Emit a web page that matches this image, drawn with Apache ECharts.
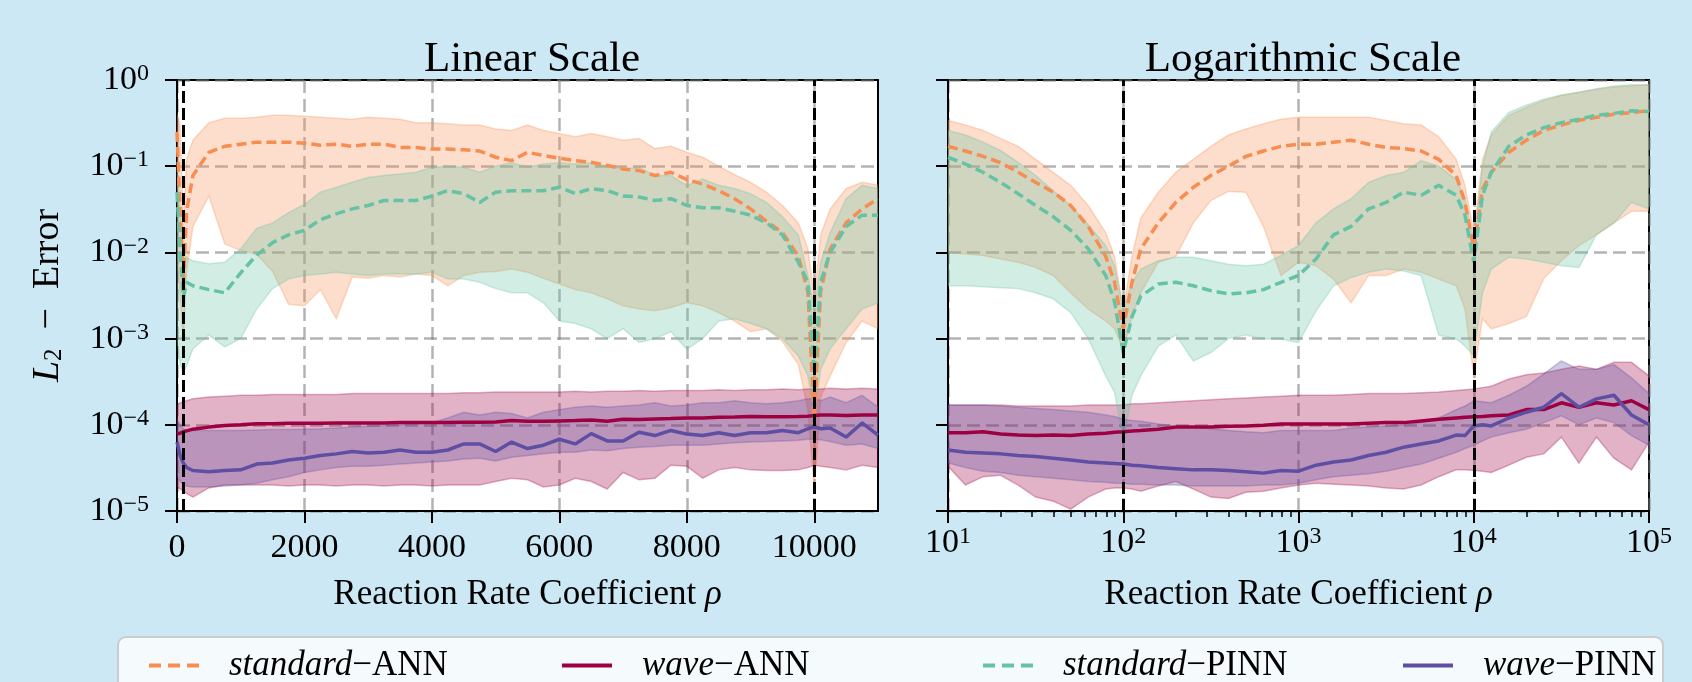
<!DOCTYPE html>
<html>
<head>
<meta charset="utf-8">
<title>L2 error vs reaction rate coefficient</title>
<script src="https://cdn.jsdelivr.net/npm/echarts@6/dist/echarts.min.js"></script>
<style>
  html, body { margin: 0; padding: 0; background: #cbe8f4; }
  #main { width: 1692px; height: 682px; }
</style>
</head>
<body>
<div id="main"></div>
<script>
// ---- linear-scale panel: rho from 0 to 11000 ----
var rhoLin = [0, 50, 100, 150, 250, 500, 750, 1000, 1250, 1500, 1750, 2000, 2250, 2500, 2750, 3000,
  3250, 3500, 3750, 4000, 4250, 4500, 4750, 5000, 5250, 5500, 5750, 6000, 6250, 6500, 6750, 7000,
  7250, 7500, 7750, 8000, 8250, 8500, 8750, 9000, 9250, 9500, 9750, 9900, 10000, 10100, 10250,
  10500, 10750, 11000];

var linStdAnnMean = [0.25, 0.03, 0.0045, 0.03, 0.078, 0.145, 0.17, 0.18, 0.19, 0.19, 0.19, 0.185, 0.175,
  0.18, 0.17, 0.18, 0.18, 0.165, 0.165, 0.158, 0.158, 0.155, 0.15, 0.127, 0.116, 0.145, 0.133, 0.124,
  0.116, 0.111, 0.102, 0.093, 0.089, 0.078, 0.085, 0.070, 0.062, 0.052, 0.042, 0.032, 0.023, 0.017,
  0.009, 0.0035, 0.000115, 0.0035, 0.011, 0.022, 0.032, 0.042];
var linStdAnnHi = [0.4, 0.3, 0.02, 0.12, 0.2, 0.32, 0.36, 0.36, 0.37, 0.39, 0.39, 0.38, 0.37, 0.36, 0.35,
  0.37, 0.36, 0.35, 0.32, 0.32, 0.31, 0.30, 0.30, 0.27, 0.26, 0.30, 0.26, 0.24, 0.22, 0.24, 0.22, 0.20,
  0.21, 0.16, 0.17, 0.145, 0.127, 0.10, 0.08, 0.065, 0.05, 0.035, 0.022, 0.011, 0.003, 0.016, 0.032,
  0.055, 0.065, 0.06];
var linStdAnnLo = [0.01, 0.003, 0.001, 0.006, 0.02, 0.045, 0.0125, 0.0105, 0.0095, 0.006, 0.0025, 0.0024,
  0.0037, 0.0017, 0.0052, 0.005, 0.0054, 0.0052, 0.0056, 0.0054, 0.0041, 0.0054, 0.0059, 0.006, 0.0064,
  0.0059, 0.005, 0.0043, 0.0037, 0.0034, 0.0029, 0.0024, 0.0022, 0.0021, 0.0023, 0.0026, 0.0024, 0.002,
  0.0016, 0.0012, 0.0013, 0.00093, 0.0005, 0.00015, 0.000018, 0.00021, 0.00037, 0.0009, 0.0016, 0.0013];

var linStdPinnMean = [0.05, 0.01, 0.003, 0.0045, 0.0041, 0.0037, 0.0034, 0.0058, 0.0093, 0.013, 0.016,
  0.018, 0.024, 0.028, 0.032, 0.035, 0.04, 0.04, 0.04, 0.045, 0.052, 0.048, 0.038, 0.05, 0.052, 0.052,
  0.052, 0.057, 0.048, 0.055, 0.052, 0.045, 0.044, 0.04, 0.042, 0.035, 0.033, 0.033, 0.03, 0.027, 0.022,
  0.016, 0.0077, 0.0045, 0.0004, 0.0045, 0.01, 0.02, 0.027, 0.027];
var linStdPinnHi = [0.12, 0.03, 0.01, 0.0087, 0.008, 0.0074, 0.0077, 0.011, 0.019, 0.022, 0.029, 0.036,
  0.05, 0.057, 0.065, 0.074, 0.078, 0.081, 0.085, 0.097, 0.10, 0.097, 0.085, 0.10, 0.11, 0.097, 0.106,
  0.11, 0.106, 0.11, 0.10, 0.093, 0.097, 0.078, 0.078, 0.06, 0.071, 0.06, 0.055, 0.048, 0.038, 0.026,
  0.016, 0.0054, 0.0022, 0.0077, 0.017, 0.042, 0.06, 0.055];
var linStdPinnLo = [0.001, 0.0005, 0.0004, 0.00048, 0.00076, 0.0011, 0.0008, 0.001, 0.0022, 0.0038, 0.0049,
  0.0054, 0.0056, 0.0059, 0.0056, 0.0054, 0.0056, 0.0056, 0.0056, 0.0059, 0.0049, 0.0049, 0.0045, 0.0038,
  0.0034, 0.0034, 0.0026, 0.0016, 0.0015, 0.0013, 0.001, 0.0013, 0.0009, 0.001, 0.0012, 0.00075, 0.001,
  0.0016, 0.0017, 0.0015, 0.0013, 0.001, 0.00063, 0.00037, 0.00013, 0.00044, 0.00076, 0.0013, 0.0022, 0.0026];

var linWaveAnnMean = [7.8e-5, 8.0e-5, 8.3e-5, 8.5e-5, 8.9e-5, 9.4e-5, 9.8e-5, 1.0e-4, 1.03e-4, 1.03e-4,
  1.04e-4, 1.04e-4, 1.04e-4, 1.05e-4, 1.05e-4, 1.05e-4, 1.05e-4, 1.06e-4, 1.06e-4, 1.06e-4,
  1.06e-4, 1.07e-4, 1.07e-4, 1.08e-4, 1.12e-4, 1.1e-4, 1.1e-4, 1.11e-4, 1.12e-4, 1.14e-4,
  1.1e-4, 1.16e-4, 1.15e-4, 1.17e-4, 1.18e-4, 1.2e-4, 1.2e-4, 1.22e-4, 1.23e-4, 1.25e-4,
  1.24e-4, 1.24e-4, 1.25e-4, 1.26e-4, 1.28e-4, 1.3e-4, 1.3e-4, 1.28e-4, 1.3e-4, 1.3e-4];
var linWaveAnnHi = [1.7e-4, 1.8e-4, 1.85e-4, 1.9e-4, 2.0e-4, 2.1e-4, 2.15e-4, 2.2e-4, 2.2e-4, 2.25e-4,
  2.25e-4, 2.25e-4, 2.25e-4, 2.25e-4, 2.3e-4, 2.3e-4, 2.3e-4, 2.3e-4, 2.3e-4, 2.3e-4,
  2.3e-4, 2.35e-4, 2.35e-4, 2.4e-4, 2.4e-4, 2.4e-4, 2.4e-4, 2.4e-4, 2.45e-4, 2.4e-4,
  2.45e-4, 2.45e-4, 2.5e-4, 2.45e-4, 2.5e-4, 2.5e-4, 2.5e-4, 2.55e-4, 2.5e-4, 2.55e-4,
  2.55e-4, 2.6e-4, 2.55e-4, 2.6e-4, 2.6e-4, 2.6e-4, 2.65e-4, 2.6e-4, 2.65e-4, 2.6e-4];
var linWaveAnnLo = [1.9e-5, 1.8e-5, 1.7e-5, 1.6e-5, 1.45e-5, 1.85e-5, 2.0e-5, 2.0e-5, 2.0e-5, 2.0e-5,
  1.95e-5, 2.0e-5, 2.0e-5, 1.95e-5, 2.0e-5, 2.0e-5, 1.95e-5, 2.0e-5, 2.0e-5, 1.95e-5,
  2.0e-5, 2.0e-5, 2.0e-5, 2.2e-5, 2.4e-5, 2.3e-5, 1.9e-5, 2.0e-5, 2.4e-5, 2.2e-5,
  1.8e-5, 2.8e-5, 2.3e-5, 2.4e-5, 3.4e-5, 3.3e-5, 2.4e-5, 3.0e-5, 3.2e-5, 3.0e-5,
  2.95e-5, 2.95e-5, 3.0e-5, 3.2e-5, 3.4e-5, 3.3e-5, 3.2e-5, 3.0e-5, 3.4e-5, 3.2e-5];

var linWavePinnMean = [6.3e-5, 4.4e-5, 3.6e-5, 3.2e-5, 2.95e-5, 2.85e-5, 2.95e-5, 3.0e-5, 3.5e-5, 3.6e-5,
  3.9e-5, 4.1e-5, 4.4e-5, 4.6e-5, 4.9e-5, 4.7e-5, 4.8e-5, 5.1e-5, 4.8e-5, 4.8e-5,
  5.1e-5, 6.0e-5, 6.0e-5, 4.9e-5, 6.3e-5, 5.3e-5, 5.8e-5, 6.8e-5, 6.0e-5, 7.9e-5,
  6.5e-5, 6.5e-5, 8.2e-5, 7.5e-5, 8.6e-5, 7.8e-5, 7.5e-5, 8.1e-5, 7.5e-5, 8.1e-5,
  8.1e-5, 8.6e-5, 8.1e-5, 9.0e-5, 9.5e-5, 9.0e-5, 9.2e-5, 7.2e-5, 1.05e-4, 7.6e-5];
var linWavePinnHi = [1.16e-4, 1.0e-4, 9.0e-5, 8.6e-5, 8.6e-5, 8.6e-5, 8.6e-5, 8.6e-5, 8.7e-5, 8.8e-5,
  8.8e-5, 8.9e-5, 9.0e-5, 9.2e-5, 9.4e-5, 9.7e-5, 9.8e-5, 1.0e-4, 1.03e-4, 1.06e-4,
  1.2e-4, 1.4e-4, 1.3e-4, 1.4e-4, 1.35e-4, 1.2e-4, 1.4e-4, 1.5e-4, 1.6e-4, 1.65e-4,
  1.6e-4, 1.65e-4, 1.7e-4, 1.8e-4, 1.65e-4, 1.7e-4, 1.8e-4, 1.8e-4, 1.9e-4, 1.8e-4,
  1.75e-4, 1.8e-4, 1.9e-4, 2.0e-4, 2.0e-4, 1.9e-4, 2.1e-4, 1.8e-4, 2.2e-4, 1.6e-4];
var linWavePinnLo = [2.6e-5, 2.2e-5, 2.0e-5, 1.95e-5, 1.9e-5, 1.9e-5, 1.95e-5, 2.0e-5, 2.1e-5, 2.3e-5,
  2.5e-5, 2.8e-5, 3.0e-5, 3.2e-5, 3.3e-5, 3.3e-5, 3.4e-5, 3.5e-5, 3.6e-5, 3.7e-5,
  3.8e-5, 4.0e-5, 4.1e-5, 3.8e-5, 4.2e-5, 4.4e-5, 4.6e-5, 4.8e-5, 4.8e-5, 5.1e-5,
  5.0e-5, 5.3e-5, 5.5e-5, 5.6e-5, 5.8e-5, 5.8e-5, 5.8e-5, 6.0e-5, 6.2e-5, 6.3e-5,
  6.4e-5, 6.5e-5, 6.6e-5, 6.8e-5, 6.8e-5, 6.7e-5, 6.4e-5, 5.8e-5, 6.0e-5, 5.3e-5];

// ---- logarithmic-scale panel: rho from 10 to 1e5 ----
var rhoLog = [10, 12.59, 15.85, 19.95, 25.12, 31.62, 39.81, 50.12, 63.1, 79.43, 89.13, 100, 112.2,
  125.9, 158.5, 199.5, 251.2, 316.2, 398.1, 501.2, 631, 794.3, 1000, 1259, 1585, 1995, 2512, 3162,
  3981, 5012, 6310, 7943, 8913, 10000, 11220, 12589, 15849, 19953, 25119, 31623, 39811, 50119,
  63096, 79433, 100000];

var logStdAnnMean = [0.17, 0.15, 0.13, 0.11, 0.085, 0.065, 0.05, 0.035, 0.02, 0.009, 0.0045, 0.0013, 0.0045,
  0.011, 0.022, 0.038, 0.057, 0.078, 0.10, 0.13, 0.15, 0.17, 0.18, 0.18, 0.19, 0.20, 0.18, 0.165, 0.16,
  0.15, 0.12, 0.078, 0.038, 0.011, 0.054, 0.085, 0.145, 0.20, 0.26, 0.30, 0.34, 0.37, 0.40, 0.42, 0.44];
var logStdAnnHi = [0.34, 0.30, 0.26, 0.21, 0.17, 0.12, 0.085, 0.06, 0.035, 0.017, 0.009, 0.0022, 0.009,
  0.025, 0.05, 0.085, 0.12, 0.17, 0.23, 0.27, 0.31, 0.35, 0.37, 0.37, 0.37, 0.37, 0.37, 0.34, 0.31,
  0.30, 0.22, 0.12, 0.06, 0.017, 0.12, 0.23, 0.39, 0.48, 0.58, 0.66, 0.72, 0.78, 0.83, 0.86, 0.88];
var logStdAnnLo = [0.01, 0.0096, 0.0092, 0.0084, 0.0077, 0.0067, 0.0054, 0.0034, 0.0022, 0.0016, 0.0013,
  0.00075, 0.0018, 0.0034, 0.0077, 0.009, 0.022, 0.04, 0.051, 0.05, 0.02, 0.0054, 0.0077, 0.007, 0.0049,
  0.0026, 0.0054, 0.0054, 0.0064, 0.0059, 0.0049, 0.0041, 0.0022, 0.00037, 0.0017, 0.0013, 0.0015,
  0.0018, 0.005, 0.008, 0.012, 0.016, 0.022, 0.03, 0.03];

var logStdPinnMean = [0.127, 0.106, 0.085, 0.065, 0.048, 0.035, 0.026, 0.018, 0.011, 0.0054, 0.0027,
  0.00069, 0.0018, 0.0031, 0.0043, 0.0045, 0.0041, 0.0036, 0.0033, 0.0034, 0.0037, 0.0045, 0.0054,
  0.0084, 0.016, 0.02, 0.032, 0.038, 0.05, 0.046, 0.06, 0.046, 0.027, 0.0077, 0.046, 0.085, 0.17,
  0.23, 0.28, 0.32, 0.35, 0.39, 0.41, 0.44, 0.43];
var logStdPinnHi = [0.26, 0.23, 0.19, 0.152, 0.111, 0.078, 0.052, 0.035, 0.021, 0.012, 0.007, 0.0022,
  0.0045, 0.0064, 0.008, 0.0088, 0.0088, 0.008, 0.0073, 0.007, 0.0073, 0.0092, 0.012, 0.022, 0.032,
  0.042, 0.065, 0.078, 0.085, 0.116, 0.10, 0.07, 0.042, 0.013, 0.10, 0.25, 0.42, 0.51, 0.60, 0.67,
  0.72, 0.79, 0.85, 0.88, 0.88];
var logStdPinnLo = [0.0041, 0.0041, 0.004, 0.0039, 0.0038, 0.0034, 0.0029, 0.002, 0.001, 0.00037, 0.00024,
  0.000068, 0.00022, 0.00037, 0.00082, 0.0011, 0.00055, 0.00069, 0.001, 0.0011, 0.00099, 0.00099, 0.0009,
  0.0021, 0.0041, 0.0051, 0.0059, 0.0064, 0.0061, 0.0054, 0.0011, 0.00099, 0.00082, 0.00063, 0.0034,
  0.0064, 0.0088, 0.0084, 0.0077, 0.007, 0.0067, 0.016, 0.022, 0.038, 0.032];

var logWaveAnnMean = [8.1e-5, 8.1e-5, 8.3e-5, 7.8e-5, 7.6e-5, 7.5e-5, 7.6e-5, 7.5e-5, 7.8e-5, 8.0e-5,
  8.2e-5, 8.3e-5, 8.5e-5, 8.6e-5, 8.9e-5, 9.4e-5, 9.4e-5, 9.4e-5, 9.6e-5, 9.7e-5, 9.9e-5, 1.02e-4,
  1.02e-4, 1.02e-4, 1.02e-4, 1.02e-4, 1.04e-4, 1.06e-4, 1.06e-4, 1.11e-4, 1.16e-4, 1.2e-4, 1.22e-4,
  1.24e-4, 1.25e-4, 1.27e-4, 1.3e-4, 1.5e-4, 1.5e-4, 1.8e-4, 1.6e-4, 1.8e-4, 1.7e-4, 1.9e-4, 1.5e-4];
var logWaveAnnHi = [1.7e-4, 1.7e-4, 1.7e-4, 1.7e-4, 1.65e-4, 1.65e-4, 1.65e-4, 1.65e-4, 1.7e-4, 1.7e-4,
  1.7e-4, 1.7e-4, 1.75e-4, 1.75e-4, 1.8e-4, 1.85e-4, 1.9e-4, 1.95e-4, 2.0e-4, 2.05e-4, 2.1e-4, 2.15e-4,
  2.2e-4, 2.2e-4, 2.2e-4, 2.25e-4, 2.3e-4, 2.3e-4, 2.3e-4, 2.35e-4, 2.4e-4, 2.5e-4, 2.55e-4, 2.6e-4,
  2.7e-4, 2.8e-4, 3.4e-4, 3.8e-4, 4.0e-4, 4.4e-4, 4.8e-4, 4.4e-4, 5.3e-4, 5.3e-4, 3.7e-4];
var logWaveAnnLo = [3.3e-5, 2.0e-5, 2.5e-5, 2.6e-5, 2.0e-5, 1.45e-5, 1.3e-5, 1.05e-5, 1.45e-5, 1.8e-5,
  1.85e-5, 1.85e-5, 1.8e-5, 1.7e-5, 1.95e-5, 2.2e-5, 1.8e-5, 1.45e-5, 1.4e-5, 1.65e-5, 1.7e-5, 1.85e-5,
  2.0e-5, 2.1e-5, 2.05e-5, 2.0e-5, 1.95e-5, 1.85e-5, 1.8e-5, 2.0e-5, 2.5e-5, 3.0e-5, 3.0e-5, 2.95e-5,
  2.9e-5, 2.8e-5, 3.4e-5, 4.2e-5, 4.6e-5, 7.2e-5, 3.6e-5, 7.2e-5, 4.1e-5, 3.0e-5, 6.3e-5];

var logWavePinnMean = [5.1e-5, 4.8e-5, 4.7e-5, 4.6e-5, 4.4e-5, 4.3e-5, 4.1e-5, 3.9e-5, 3.7e-5, 3.6e-5,
  3.55e-5, 3.5e-5, 3.4e-5, 3.35e-5, 3.2e-5, 3.1e-5, 3.0e-5, 3.0e-5, 2.95e-5, 2.85e-5, 2.75e-5, 2.95e-5,
  2.9e-5, 3.4e-5, 3.7e-5, 3.9e-5, 4.4e-5, 4.8e-5, 5.5e-5, 6.0e-5, 6.5e-5, 7.6e-5, 7.5e-5, 9.7e-5,
  1.0e-4, 9.7e-5, 1.2e-4, 1.4e-4, 1.6e-4, 2.3e-4, 1.6e-4, 2.0e-4, 2.2e-4, 1.3e-4, 1.0e-4];
var logWavePinnHi = [1.7e-4, 1.7e-4, 1.7e-4, 1.65e-4, 1.6e-4, 1.55e-4, 1.5e-4, 1.45e-4, 1.4e-4, 1.3e-4,
  1.25e-4, 1.16e-4, 1.12e-4, 1.1e-4, 1.02e-4, 9.7e-5, 9.4e-5, 9.0e-5, 8.6e-5, 8.3e-5, 8.1e-5, 8.6e-5,
  8.6e-5, 8.6e-5, 8.6e-5, 9.2e-5, 9.4e-5, 9.7e-5, 1.0e-4, 1.06e-4, 1.2e-4, 1.5e-4, 1.65e-4, 1.9e-4,
  1.85e-4, 1.8e-4, 2.2e-4, 2.8e-4, 3.9e-4, 5.5e-4, 4.4e-4, 4.4e-4, 5.0e-4, 3.5e-4, 2.3e-4];
var logWavePinnLo = [3.6e-5, 3.2e-5, 2.9e-5, 2.8e-5, 2.6e-5, 2.5e-5, 2.4e-5, 2.3e-5, 2.2e-5, 2.15e-5,
  2.1e-5, 2.1e-5, 2.05e-5, 2.05e-5, 2.0e-5, 2.0e-5, 1.95e-5, 1.95e-5, 1.95e-5, 1.95e-5, 2.0e-5, 2.0e-5,
  2.1e-5, 2.3e-5, 2.5e-5, 2.6e-5, 2.7e-5, 2.9e-5, 3.2e-5, 3.5e-5, 4.1e-5, 4.8e-5, 5.3e-5, 5.8e-5,
  6.5e-5, 7.2e-5, 8.1e-5, 8.9e-5, 1.06e-4, 1.27e-4, 1.0e-4, 1.2e-4, 1.06e-4, 7.5e-5, 5.8e-5];

// ticks and reference lines
var linTicks = [0, 2000, 4000, 6000, 8000, 10000];
var logTicks = [10, 100, 1000, 10000, 100000];
var logMinorTicks = [20, 30, 40, 50, 60, 70, 80, 90, 200, 300, 400, 500, 600, 700, 800, 900,
  2000, 3000, 4000, 5000, 6000, 7000, 8000, 9000, 20000, 30000, 40000, 50000, 60000, 70000, 80000, 90000];
var regimeBounds = [100, 10000];

var FONT = 'Liberation Serif';
var C_STD_ANN = '#f88d52', C_WAVE_ANN = '#9e0142', C_STD_PINN = '#66c2a5', C_WAVE_PINN = '#5e4fa2';
var gridLine = { color: 'rgba(128,128,128,0.6)', width: 2.5, type: [13, 6] };

var powRich = {
  b: { fontFamily: FONT, fontSize: 34, color: '#000', lineHeight: 36 },
  s: { fontFamily: FONT, fontSize: 24, color: '#000', lineHeight: 22, verticalAlign: 'top' }
};
function powLabel(v) {
  var e = Math.round(Math.log10(v));
  return '{b|10}{s|' + (e < 0 ? '\u2212' + (-e) : e) + '}';
}

function pairs(xs, ys) {
  var out = [];
  for (var i = 0; i < xs.length; i++) out.push([xs[i], ys[i]]);
  return out;
}

// shaded min/max band, drawn as one polygon through the axes' own scales
function band(xAxisIndex, yAxisIndex, xs, lo, hi, color) {
  var data = [];
  for (var i = 0; i < xs.length; i++) data.push([xs[i], lo[i], hi[i]]);
  return {
    type: 'custom',
    xAxisIndex: xAxisIndex,
    yAxisIndex: yAxisIndex,
    silent: true,
    clip: true,
    data: data,
    encode: { x: 0, y: [1, 2] },
    renderItem: function (params, api) {
      if (params.dataIndex !== 0) return null;
      var pts = [];
      for (var i = 0; i < data.length; i++) pts.push(api.coord([data[i][0], data[i][2]]));
      for (var j = data.length - 1; j >= 0; j--) pts.push(api.coord([data[j][0], data[j][1]]));
      return {
        type: 'polygon',
        shape: { points: pts },
        style: { fill: color, stroke: color, lineWidth: 1.5, opacity: 0.3 }
      };
    }
  };
}

function line(xAxisIndex, yAxisIndex, name, xs, ys, color, dashed) {
  return {
    type: 'line',
    name: name,
    xAxisIndex: xAxisIndex,
    yAxisIndex: yAxisIndex,
    data: pairs(xs, ys),
    symbol: 'none',
    silent: true,
    itemStyle: { color: color },
    lineStyle: { color: color, width: 3.5, type: dashed ? [10, 5] : 'solid' }
  };
}

function regimeLines() {
  return {
    silent: true,
    symbol: ['none', 'none'],
    label: { show: false },
    lineStyle: { color: '#000', width: 3, type: [12, 5] },
    data: regimeBounds.map(function (v) { return { xAxis: v }; })
  };
}

function panelSeries(xi, yi, xs, d) {
  var s = [
    band(xi, yi, xs, d.saLo, d.saHi, C_STD_ANN),
    line(xi, yi, 'standard-ANN', xs, d.saMean, C_STD_ANN, true),
    band(xi, yi, xs, d.waLo, d.waHi, C_WAVE_ANN),
    line(xi, yi, 'wave-ANN', xs, d.waMean, C_WAVE_ANN, false),
    band(xi, yi, xs, d.spLo, d.spHi, C_STD_PINN),
    line(xi, yi, 'standard-PINN', xs, d.spMean, C_STD_PINN, true),
    band(xi, yi, xs, d.wpLo, d.wpHi, C_WAVE_PINN),
    line(xi, yi, 'wave-PINN', xs, d.wpMean, C_WAVE_PINN, false)
  ];
  s[s.length - 1].markLine = regimeLines();
  return s;
}

var series = panelSeries(0, 0, rhoLin, {
  saMean: linStdAnnMean, saHi: linStdAnnHi, saLo: linStdAnnLo,
  waMean: linWaveAnnMean, waHi: linWaveAnnHi, waLo: linWaveAnnLo,
  spMean: linStdPinnMean, spHi: linStdPinnHi, spLo: linStdPinnLo,
  wpMean: linWavePinnMean, wpHi: linWavePinnHi, wpLo: linWavePinnLo
}).concat(panelSeries(1, 1, rhoLog, {
  saMean: logStdAnnMean, saHi: logStdAnnHi, saLo: logStdAnnLo,
  waMean: logWaveAnnMean, waHi: logWaveAnnHi, waLo: logWaveAnnLo,
  spMean: logStdPinnMean, spHi: logStdPinnHi, spLo: logStdPinnLo,
  wpMean: logWavePinnMean, wpHi: logWavePinnHi, wpLo: logWavePinnLo
}));

function nameStyle(size) {
  return {
    fontFamily: FONT, fontSize: size, color: '#000',
    rich: {
      r: { fontFamily: FONT, fontSize: size, color: '#000' },
      i: { fontFamily: FONT, fontSize: size, color: '#000', fontStyle: 'italic' },
      sub: { fontFamily: FONT, fontSize: 25, color: '#000', verticalAlign: 'bottom', lineHeight: 20 }
    }
  };
}
var blackAxis = { show: true, lineStyle: { color: '#000', width: 2 } };
var majorTick = { show: true, length: 12, lineStyle: { color: '#000', width: 2 } };

var xName = '{r|Reaction Rate Coefficient }{i|\u03c1}';

var legendRich = {
  i: { fontFamily: FONT, fontSize: 35, color: '#000', fontStyle: 'italic', padding: [0, 0, 0, 25] },
  r: { fontFamily: FONT, fontSize: 35, color: '#000' }
};
function legendItem(name, left, dashed) {
  return {
    data: [name],
    left: left,
    top: 643,
    itemWidth: 50,
    itemHeight: 14,
    selectedMode: false,
    itemStyle: { color: 'rgba(0,0,0,0)', borderWidth: 0, opacity: 0 },
    lineStyle: { width: 4, type: dashed ? [12, 7] : 'solid' },
    formatter: function (n) {
      var parts = n.split('-');
      return '{i|' + parts[0] + '}{r|\u2212' + parts[1] + '}';
    },
    textStyle: { rich: legendRich }
  };
}

var chart = echarts.init(document.getElementById('main'));
var option = {
  animation: false,
  backgroundColor: '#cbe8f4',
  textStyle: { fontFamily: FONT },
  title: [
    { text: 'Linear Scale', left: 527, top: 33, textAlign: 'center',
      textStyle: { fontFamily: FONT, fontSize: 43, fontWeight: 'normal', color: '#000' } },
    { text: 'Logarithmic Scale', left: 1298, top: 33, textAlign: 'center',
      textStyle: { fontFamily: FONT, fontSize: 43, fontWeight: 'normal', color: '#000' } }
  ],
  graphic: [{
    type: 'rect',
    z: 1,
    shape: { x: 118, y: 637, width: 1545, height: 80, r: 8 },
    style: { fill: 'rgba(255,255,255,0.8)', stroke: '#cccccc', lineWidth: 2 }
  }],
  legend: [
    legendItem('standard-ANN', 142, true),
    legendItem('wave-ANN', 555, false),
    legendItem('standard-PINN', 976, true),
    legendItem('wave-PINN', 1396, false)
  ],
  grid: [
    { left: 177, top: 80, width: 701, height: 431, show: true, backgroundColor: '#fff',
      borderColor: '#000', borderWidth: 2 },
    { left: 948, top: 80, width: 701, height: 431, show: true, backgroundColor: '#fff',
      borderColor: '#000', borderWidth: 2 }
  ],
  xAxis: [
    {
      gridIndex: 0, type: 'value', min: 0, max: 11000, interval: 2000,
      axisLine: blackAxis,
      axisTick: { show: true, length: 12, lineStyle: { color: '#000', width: 2 }, customValues: linTicks },
      axisLabel: { fontFamily: FONT, fontSize: 34, color: '#000', margin: 20, customValues: linTicks,
        formatter: function (v) { return String(v); } },
      splitLine: { show: true, lineStyle: gridLine },
      name: xName, nameLocation: 'middle', nameGap: 66, nameTextStyle: nameStyle(35)
    },
    {
      gridIndex: 1, type: 'log', logBase: 10, min: 10, max: 100000, splitNumber: 4,
      axisLine: blackAxis,
      axisTick: { show: true, length: 12, lineStyle: { color: '#000', width: 2 }, customValues: logTicks },
      axisLabel: { formatter: powLabel, rich: powRich, margin: 14, customValues: logTicks },
      splitLine: { show: true, lineStyle: gridLine },
      name: xName, nameLocation: 'middle', nameGap: 66, nameTextStyle: nameStyle(35)
    },
    {
      // minor ticks of the log axis
      gridIndex: 1, type: 'log', logBase: 10, min: 10, max: 100000, position: 'bottom',
      axisLine: { show: false },
      axisLabel: { show: false },
      splitLine: { show: false },
      axisTick: { show: true, length: 6, lineStyle: { color: '#000', width: 1.5 }, customValues: logMinorTicks }
    }
  ],
  yAxis: [
    {
      gridIndex: 0, type: 'log', logBase: 10, min: 1e-5, max: 1, splitNumber: 5,
      axisLine: blackAxis,
      axisTick: majorTick,
      axisLabel: { formatter: powLabel, rich: powRich, margin: 28 },
      splitLine: { show: true, lineStyle: gridLine },
      name: '{i|L}{sub|2}{r|\u2002\u2212\u2002Error}', nameLocation: 'middle', nameRotate: 90, nameGap: 110,
      nameTextStyle: nameStyle(38)
    },
    {
      gridIndex: 1, type: 'log', logBase: 10, min: 1e-5, max: 1, splitNumber: 5,
      axisLine: blackAxis,
      axisTick: majorTick,
      axisLabel: { show: false },
      splitLine: { show: true, lineStyle: gridLine }
    }
  ],
  series: series
};
chart.setOption(option);
</script>
</body>
</html>
